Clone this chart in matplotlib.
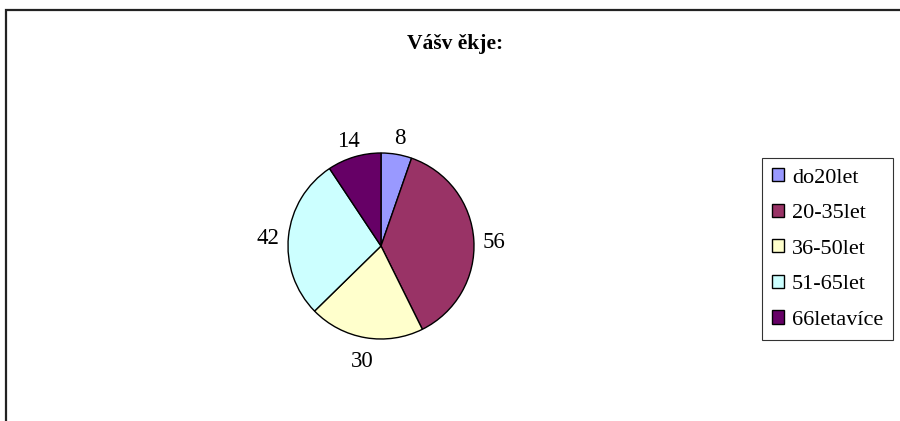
import matplotlib.pyplot as plt
from matplotlib.patches import Rectangle
from matplotlib.transforms import offset_copy

title = 'Vášv ěkje:'
labels = ['do20let', '20-35let', '36-50let', '51-65let', '66letavíce']
values = [8, 56, 30, 42, 14]
colors = ['#9999FF', '#993366', '#FFFFCC', '#CCFFFF', '#660066']

plt.rcParams['font.family'] = ['Liberation Serif', 'DejaVu Serif']

W, H = 900, 421
fig = plt.figure(figsize=(W / 100, H / 100), dpi=100)

# chart area frame (runs off the right and bottom edge)
fig.patches.append(Rectangle((6 / W, -0.1), 1.0, (H - 10) / H + 0.1,
                             transform=fig.transFigure, fill=False,
                             edgecolor='#222222', linewidth=1.6))

fig.text(455 / W, 1 - 44 / H, title, ha='center', va='center',
         fontsize=15.5, fontweight='bold')

# pie: center ~ (381, 246) px, radius ~ 93 px
r = 93
ax = fig.add_axes([(381 - r) / W, (H - 246 - r) / H, 2 * r / W, 2 * r / H])
wedges, _, autotexts = ax.pie(values, colors=colors, startangle=90,
                              counterclock=False,
                              wedgeprops=dict(edgecolor='black', linewidth=1),
                              autopct=lambda p: '%d' % round(p * sum(values) / 100),
                              pctdistance=1.22, textprops=dict(fontsize=16.5))
for t in autotexts:
    t.set_transform(offset_copy(t.get_transform(), fig=fig, y=-4, units='dots'))
ax.set_xlim(-1, 1)
ax.set_ylim(-1, 1)
ax.set_aspect('equal')
ax.axis('off')

leg = fig.legend(wedges, labels, loc='upper left',
                 bbox_to_anchor=(762 / W, 1 - 158 / H),
                 frameon=True, fancybox=False, edgecolor='black',
                 fontsize=16, handlelength=0.55, handleheight=0.55,
                 handletextpad=0.35, labelspacing=0.72,
                 borderpad=0.45, borderaxespad=0)
leg.get_frame().set_linewidth(0.8)

fig.savefig('out.png', dpi=100)
